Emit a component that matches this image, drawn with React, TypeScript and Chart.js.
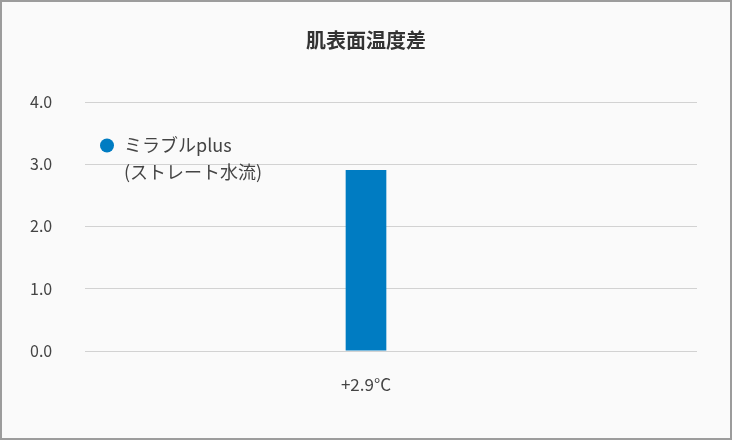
import React, { useEffect, useRef } from "react";
import { Chart, registerables } from "chart.js";

Chart.register(...registerables);

const title = "肌表面温度差";
const categories = ["+2.9°C"];
const seriesName = "ミラブルplus\n(ストレート水流)";
const seriesValues = [2.9];
const yTicks = [0, 1, 2, 3, 4];

const FONT = "'Noto Sans CJK JP', 'Noto Sans', sans-serif";

// gridlines start past the y labels, while the category axis spans the full width
const gridPlugin = {
  id: "insetGrid",
  beforeDatasetsDraw(chart: any) {
    const { ctx, chartArea, scales } = chart;
    ctx.save();
    ctx.strokeStyle = "#d2d2d2";
    ctx.lineWidth = 1;
    yTicks.forEach((t) => {
      const y = Math.round(scales.y.getPixelForValue(t)) + 0.5;
      ctx.beginPath();
      ctx.moveTo(chartArea.left + 55, y);
      ctx.lineTo(chartArea.right - 5, y);
      ctx.stroke();
    });
    ctx.restore();
  },
};

const legendPlugin = {
  id: "floatLegend",
  afterDraw(chart: any) {
    const { ctx, chartArea, scales } = chart;
    const ds = chart.data.datasets[0];
    const lines = String(ds.label).split("\n");
    const x = chartArea.left + 94;
    const y0 = scales.y.getPixelForValue(3.3);
    ctx.save();
    ctx.fillStyle = ds.backgroundColor;
    ctx.beginPath();
    ctx.arc(chartArea.left + 77, y0, 7, 0, Math.PI * 2);
    ctx.fill();
    ctx.fillStyle = "#444";
    ctx.font = `18px ${FONT}`;
    ctx.textBaseline = "middle";
    lines.forEach((line, i) => ctx.fillText(line, x, y0 + i * 27));
    ctx.restore();
  },
};

export default function App() {
  const canvasRef = useRef<HTMLCanvasElement | null>(null);

  useEffect(() => {
    if (!canvasRef.current) return;
    const chart = new Chart(canvasRef.current, {
      type: "bar",
      data: {
        labels: categories,
        datasets: [
          {
            label: seriesName,
            data: seriesValues,
            backgroundColor: "#007cc2",
            barThickness: 40,
          },
        ],
      },
      options: {
        animation: false,
        responsive: true,
        maintainAspectRatio: false,
        layout: { padding: { left: 28, right: 28, top: 0, bottom: 27 } },
        plugins: {
          legend: { display: false },
          tooltip: { enabled: false },
          title: {
            display: true,
            text: title,
            color: "#333",
            font: { family: FONT, size: 20, weight: "bold" },
            padding: { top: 26, bottom: 50 },
          },
        },
        scales: {
          x: {
            grid: { display: false },
            border: { display: false },
            ticks: {
              color: "#444",
              font: { family: FONT, size: 17 },
              padding: 16,
            },
          },
          y: {
            min: 0,
            max: 4,
            grid: { display: false, drawTicks: false },
            border: { display: false },
            afterBuildTicks: (scale: any) => {
              scale.ticks = yTicks.map((v) => ({ value: v }));
            },
            ticks: {
              mirror: true,
              padding: 0,
              color: "#444",
              font: { family: FONT, size: 16 },
              callback: (v: any) => Number(v).toFixed(1),
            },
          },
        },
      },
      plugins: [gridPlugin, legendPlugin],
    });
    return () => chart.destroy();
  }, []);

  return (
    <div
      style={{
        position: "absolute",
        left: 0,
        top: 0,
        width: 732,
        height: 440,
        boxSizing: "border-box",
        border: "2px solid #9c9c9c",
        background: "#fafafa",
      }}
    >
      <canvas ref={canvasRef} />
    </div>
  );
}
